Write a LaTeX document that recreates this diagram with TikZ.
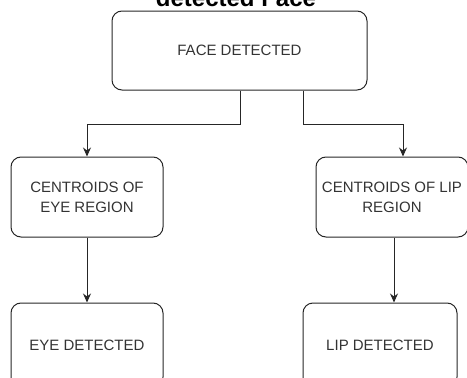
\documentclass[tikz,border=0pt]{standalone}
\usepackage{fontspec}
\setmainfont{Liberation Sans}
\usetikzlibrary{arrows.meta,calc}
\definecolor{txt}{HTML}{333333}
\tikzset{
  box/.style={draw=black!85, line width=1pt, rounded corners=10pt, inner sep=0pt,
    align=center, text=txt, font=\fontsize{15}{20}\selectfont},
  arr/.style={draw=black!85, line width=1pt, -{Stealth[length=9pt,width=8pt]}},
  ttl/.style={font=\fontsize{24}{28}\selectfont\bfseries, anchor=base, inner sep=0pt}
}
\begin{document}
\begin{tikzpicture}[x=1pt,y=-1pt]
\useasboundingbox (0,0) rectangle (467,378);
\clip (0,0) rectangle (467,378);
\node[ttl] (title) at (236,6.5) {detected Face};
\node[box, minimum width=255pt, minimum height=79pt] (face) at (239.5,50.5) {FACE DETECTED};
\node[box, minimum width=152pt, minimum height=80pt] (eyec) at (87,197) {CENTROIDS OF\\EYE REGION};
\node[box, minimum width=152pt, minimum height=80pt] (lipc) at (392,197) {CENTROIDS OF LIP\\REGION};
\node[box, minimum width=152pt, minimum height=84pt] (eyed) at (87,345) {EYE DETECTED};
\node[box, minimum width=154pt, minimum height=84pt] (lipd) at (380,345) {LIP DETECTED};
\coordinate (fl) at ([xshift=0.5pt]face.south);
\coordinate (fr) at ([xshift=63.5pt]face.south);
\draw[arr] (fl) -- ++(0,34) -| (eyec.north);
\draw[arr] (fr) -- ++(0,34) -| ([xshift=11pt]lipc.north);
\draw[arr] (eyec.south) -- (eyed.north);
\coordinate (ls) at ([xshift=2pt]lipc.south);
\draw[arr] (ls) -- (ls |- lipd.north);
\end{tikzpicture}
\end{document}
